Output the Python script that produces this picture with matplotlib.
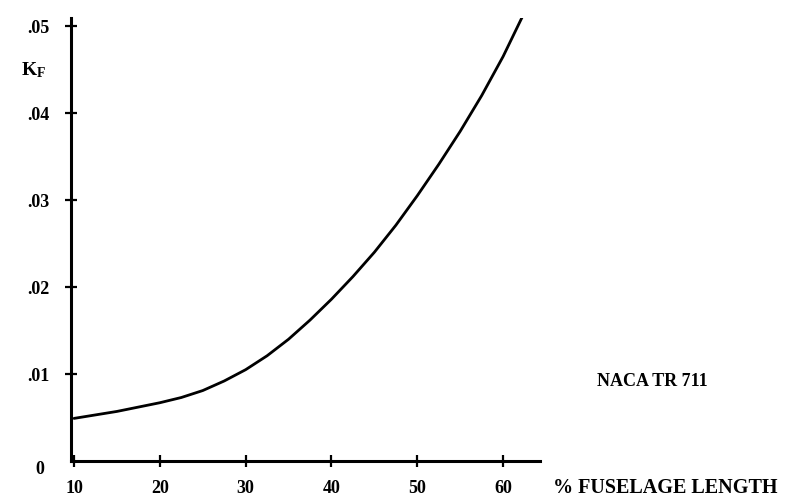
import matplotlib
matplotlib.use("Agg")
import matplotlib.pyplot as plt

# values
fuselage_pct = [10.0, 12.5, 15.0, 17.5, 20.0, 22.5, 25.0, 27.5, 30.0, 32.5, 35.0, 37.5,
                40.0, 42.5, 45.0, 47.5, 50.0, 52.5, 55.0, 57.5, 60.0, 62.7]
k_f = [0.0049, 0.0053, 0.0057, 0.0062, 0.0067, 0.0073, 0.0081, 0.0092, 0.0105, 0.0121,
       0.0140, 0.0162, 0.0186, 0.0212, 0.0240, 0.0271, 0.0305, 0.0341, 0.0379, 0.0420,
       0.0465, 0.0520]

x_ticks = [10, 20, 30, 40, 50, 60]
y_ticks = [0.01, 0.02, 0.03, 0.04, 0.05]
y_tick_labels = [".01", ".02", ".03", ".04", ".05"]

plt.rcParams["font.family"] = ["Liberation Serif", "DejaVu Serif"]
plt.rcParams["font.weight"] = "bold"
plt.rcParams["mathtext.fontset"] = "custom"
plt.rcParams["mathtext.bf"] = "Liberation Serif:bold"
plt.rcParams["mathtext.rm"] = "Liberation Serif:bold"

fig = plt.figure(figsize=(7.88, 4.97), dpi=100)
ax = fig.add_axes([0.0896, 0.0724, 0.5957, 0.891])

ax.plot(fuselage_pct, k_f, color="black", linewidth=2.0,
        solid_capstyle="round", solid_joinstyle="round")

ax.set_xlim(9.6, 64.3)
ax.set_ylim(0, 0.0509)

for side in ["top", "right"]:
    ax.spines[side].set_visible(False)
for side in ["left", "bottom"]:
    ax.spines[side].set_linewidth(2.2)

ax.set_xticks(x_ticks)
ax.set_xticklabels([str(v) for v in x_ticks])
ax.set_yticks(y_ticks)
ax.set_yticklabels(y_tick_labels)
ax.tick_params(direction="inout", length=9, width=1.6, labelsize=13)
ax.tick_params(axis="y", pad=11)
ax.tick_params(axis="x", pad=9)

ax.annotate("0", xy=(9.6, 0), xycoords="data", xytext=(-22, -6),
            textcoords="offset points", ha="center", va="center", fontsize=13)
fig.text(34 / 788, 1 - 70 / 497, r"$\mathbf{K_F}$", ha="center", va="center", fontsize=14)
fig.text(553 / 788, 1 - 488 / 497, "% FUSELAGE LENGTH", ha="left", va="center", fontsize=14.5)
fig.text(652 / 788, 1 - 381 / 497, "NACA TR 711", ha="center", va="center", fontsize=13)

fig.savefig("out.png", dpi=100)
